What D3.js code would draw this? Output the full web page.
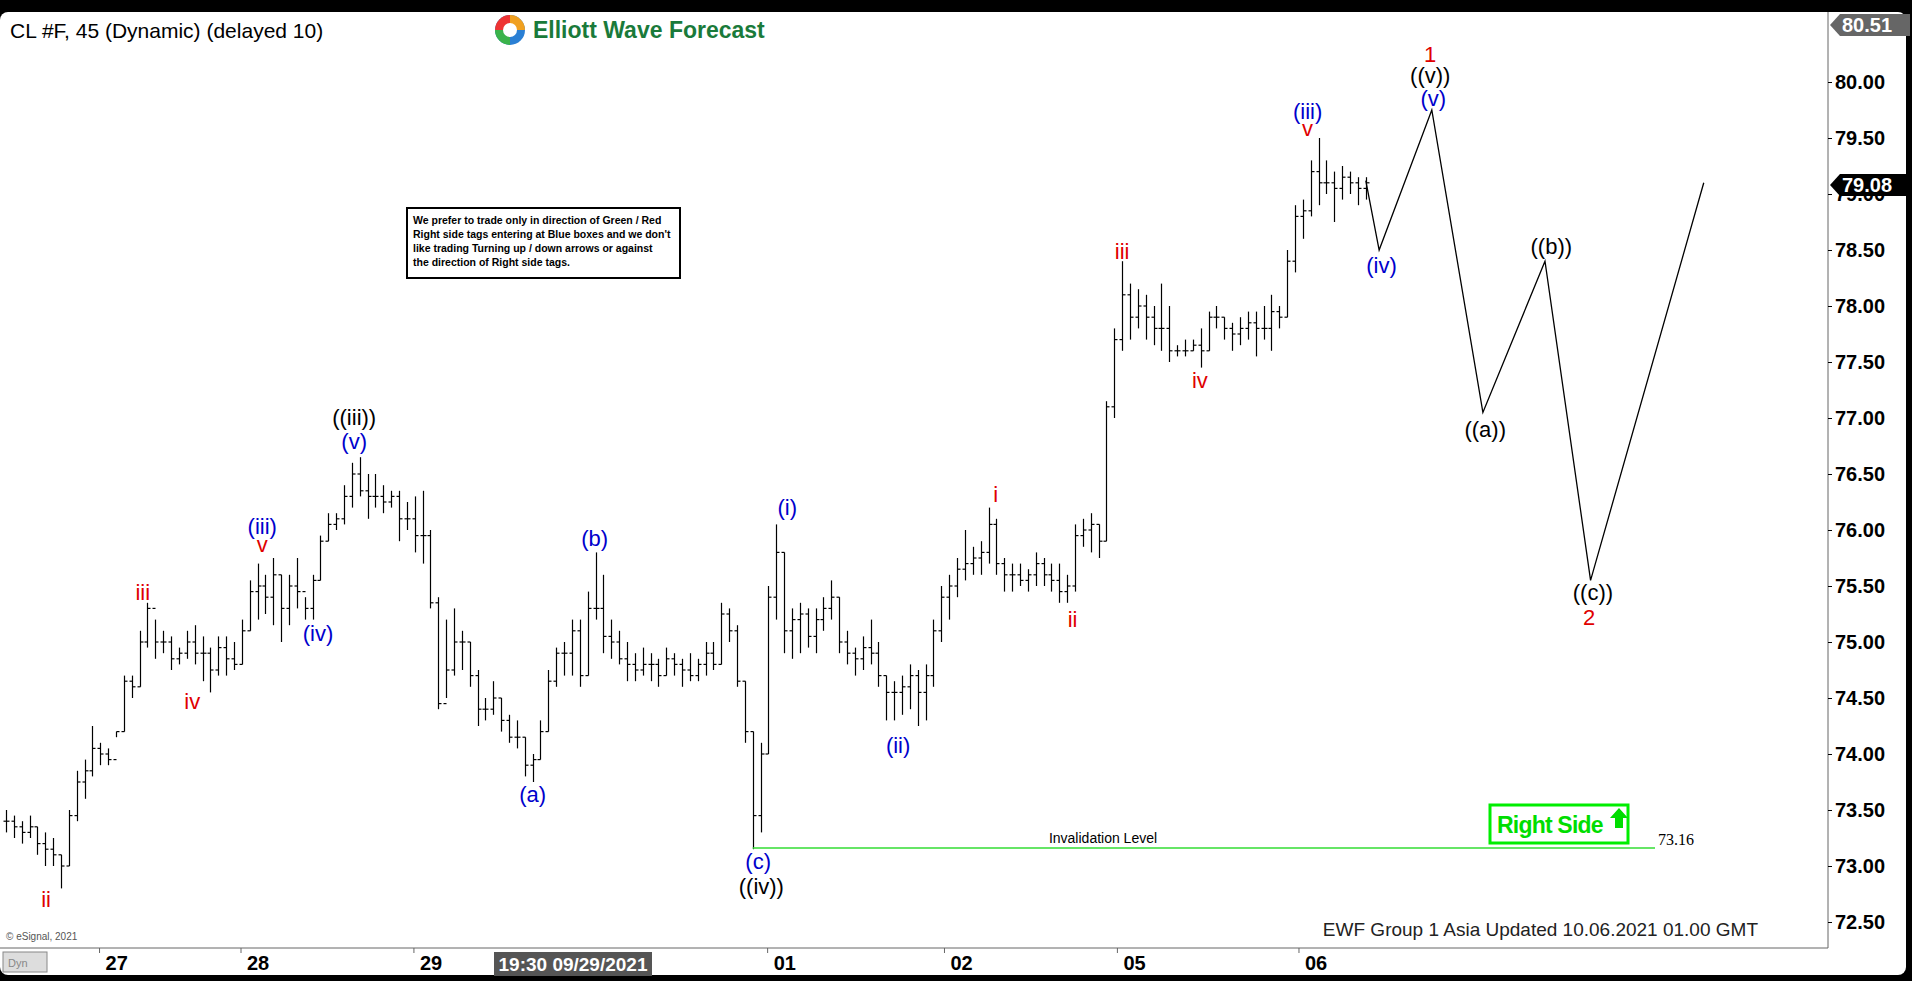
<!DOCTYPE html>
<html><head><meta charset="utf-8">
<script src="https://cdn.jsdelivr.net/npm/d3@7/dist/d3.min.js"></script>
<style>body{margin:0;background:#000;overflow:hidden}</style></head>
<body><script>
// bars: [high, low, close]
const bars=[[73.5,73.3,73.4],[73.45,73.25,73.35],[73.4,73.2,73.3],[73.45,73.25,73.35],[73.35,73.1,73.2],[73.3,73.0,73.15],[73.25,73.0,73.1],[73.1,72.8,73.0],[73.5,73.0,73.45],[73.85,73.4,73.75],[73.95,73.6,73.85],[74.25,73.8,74.05],[74.1,73.9,74.0],[74.05,73.9,73.95],
[74.2,74.15,74.2],[74.7,74.2,74.65],[74.7,74.5,74.6],[75.1,74.6,75.0],[75.35,74.95,75.3],[75.2,74.85,75.0],[75.1,74.9,75.0],[75.05,74.75,74.85],[74.95,74.8,74.9],[75.1,74.85,75.0],[75.15,74.8,74.9],[75.05,74.65,74.9],[74.95,74.55,74.75],[75.05,74.7,74.95],[75.05,74.7,74.85],[75.0,74.75,74.8],
[75.2,74.8,75.1],[75.55,75.1,75.45],[75.7,75.2,75.5],[75.6,75.25,75.4],[75.75,75.15,75.6],[75.6,75.0,75.3],[75.6,75.15,75.5],[75.75,75.3,75.45],[75.4,75.2,75.3],[75.6,75.2,75.55],[75.95,75.55,75.9],[76.15,75.9,76.05],[76.15,76.0,76.1],[76.4,76.05,76.3],[76.6,76.2,76.5],[76.65,76.3,76.35],[76.5,76.1,76.3],[76.5,76.2,76.3],[76.4,76.15,76.25],[76.35,76.2,76.3],[76.35,75.9,76.1],[76.25,76.0,76.1],[76.3,75.8,75.95],[76.35,75.7,75.95],
[76.0,75.3,75.35],[75.4,74.4,74.45],[75.2,74.5,74.75],[75.3,74.7,75.0],[75.1,74.75,75.0],[75.0,74.6,74.7],[74.75,74.25,74.4],[74.5,74.3,74.4],[74.65,74.35,74.5],[74.5,74.2,74.3],[74.35,74.1,74.15],[74.3,74.05,74.15],[74.15,73.8,73.9],[74.0,73.75,73.95],[74.3,73.95,74.2],[74.75,74.2,74.65],[74.95,74.6,74.9],[75.0,74.7,74.9],[75.2,74.7,75.1],[75.2,74.6,74.7],[75.45,74.7,75.3],[75.8,75.2,75.3],[75.6,74.9,75.05],[75.2,74.85,75.0],[75.1,74.8,74.85],[75.0,74.65,74.8],[74.9,74.65,74.75],[74.95,74.7,74.8],[74.9,74.65,74.8],[74.85,74.6,74.7],[74.95,74.7,74.85],[74.9,74.7,74.8],[74.85,74.6,74.75],[74.9,74.65,74.7],[74.85,74.65,74.8],[75.0,74.7,74.9],[75.0,74.75,74.8],[75.35,74.8,75.25],[75.3,75.0,75.1],[75.15,74.6,74.65],[74.65,74.1,74.2],[74.2,73.15,73.45],
[74.1,73.3,74.0],[75.5,74.0,75.4],[76.05,75.2,75.8],[75.8,74.9,75.1],[75.3,74.85,75.2],[75.35,74.9,75.25],[75.3,74.95,75.05],[75.3,74.9,75.2],[75.4,75.1,75.3],[75.55,75.2,75.4],[75.4,74.9,75.0],[75.1,74.8,74.9],[74.95,74.7,74.85],[75.05,74.75,74.95],[75.2,74.8,74.9],[75.0,74.6,74.7],[74.7,74.3,74.55],[74.65,74.3,74.55],[74.7,74.35,74.6],[74.8,74.4,74.7],[74.75,74.25,74.55],[74.8,74.3,74.7],[75.2,74.6,75.1],
[75.5,75.0,75.4],[75.6,75.2,75.5],[75.75,75.4,75.65],[76.0,75.55,75.7],[75.85,75.6,75.75],[75.9,75.6,75.8],[76.2,75.7,76.05],[76.1,75.6,75.7],[75.75,75.45,75.6],[75.7,75.45,75.6],[75.7,75.5,75.55],[75.65,75.45,75.6],[75.8,75.5,75.7],[75.75,75.5,75.6],[75.7,75.45,75.55],[75.7,75.35,75.45],[75.6,75.35,75.5],[76.05,75.45,75.95],[76.1,75.85,76.0],[76.15,75.8,76.05],[76.05,75.75,75.9],[77.15,75.9,77.1],[77.8,77.0,77.7],[78.4,77.6,78.1],
[78.2,77.7,77.9],[78.15,77.8,78.0],[78.1,77.7,77.9],[78.0,77.65,77.8],[78.2,77.6,77.8],[78.0,77.5,77.6],[77.65,77.55,77.6],[77.7,77.55,77.6],[77.7,77.6,77.65],[77.8,77.45,77.6],[77.95,77.6,77.9],[78.0,77.8,77.9],[77.9,77.7,77.8],[77.85,77.6,77.75],[77.9,77.65,77.8],[77.95,77.7,77.85],[77.95,77.55,77.8],[78.0,77.7,77.8],[78.1,77.6,77.95],[78.0,77.8,77.9],[78.5,77.9,78.4],[78.9,78.3,78.8],[78.95,78.6,78.85],[79.3,78.8,79.2],[79.5,78.9,79.1],[79.3,79.0,79.1],[79.2,78.75,79.05],[79.25,78.95,79.15],[79.2,79.0,79.1],[79.15,78.9,79.05],[79.15,78.95,79.1]];
const projection=[[173,79.12],[174.7,78.5],[181.4,79.75],[187.9,77.05],[195.8,78.4],[201.6,75.55],[216,79.1]];
// labels: [text, index, price, color]
const waveLabels=[["ii",5.1,72.7,"r"],["iii",17.4,75.44,"r"],["iv",23.7,74.46,"r"],["(iii)",32.6,76.03,"b"],["v",32.6,75.87,"r"],["(iv)",39.7,75.07,"b"],["((iii))",44.3,77.0,"k"],["(v)",44.3,76.79,"b"],["(a)",67,73.63,"b"],["(b)",74.9,75.92,"b"],["(c)",95.7,73.04,"b"],["((iv))",96.1,72.81,"k"],["(i)",99.4,76.2,"b"],["(ii)",113.5,74.07,"b"],["i",125.9,76.31,"r"],["ii",135.7,75.2,"r"],["iii",142,78.48,"r"],["iv",151.9,77.33,"r"],["(iii)",165.6,79.73,"b"],["v",165.6,79.58,"r"],["(iv)",175,78.36,"b"],["1",181.2,80.24,"r"],["((v))",181.2,80.05,"k"],["(v)",181.6,79.85,"b"],["((a))",188.2,76.89,"k"],["((b))",196.6,78.53,"k"],["((c))",201.9,75.44,"k"],["2",201.4,75.21,"r"]];
const priceTicks=[72.5,73,73.5,74,74.5,75,75.5,76,76.5,77,77.5,78,78.5,79,79.5,80];
const dayTicks=[[11.9,"27"],[29.9,"28"],[51.9,"29"],[96.9,"01"],[119.4,"02"],[141.4,"05"],[164.5,"06"]];
const invalidation=73.16, lastPrice=79.08, topPrice=80.51, invStart=95;

const W=1912,H=981,plotR=1828,plotB=948;
const x=d3.scaleLinear().domain([0,1]).range([6,13.86]);
const y=d3.scaleLinear().domain([80,72.5]).range([82,922]);
const col={r:"#e00000",b:"#0000cc",k:"#000"};
const svg=d3.select("body").append("svg").attr("width",W).attr("height",H).style("font-family","Arial, Liberation Sans, sans-serif");
svg.append("rect").attr("width",W).attr("height",H).attr("fill","#000");
svg.append("rect").attr("x",0).attr("y",12).attr("width",1906).attr("height",963).attr("rx",8).attr("fill","#fff");
svg.append("line").attr("x1",plotR).attr("x2",plotR).attr("y1",12).attr("y2",plotB).attr("stroke","#666");
svg.append("line").attr("x1",0).attr("x2",plotR).attr("y1",plotB).attr("y2",plotB).attr("stroke","#666");
const ax=svg.append("g").attr("transform",`translate(${plotR},0)`).call(d3.axisRight(y).tickValues(priceTicks).tickFormat(d3.format(".2f")).tickSize(4));
ax.select(".domain").remove();
ax.selectAll("text").attr("font-size",20).attr("font-weight","bold").attr("fill","#000").attr("font-family","Arial, Liberation Sans");
function tag(v,bg){const g=svg.append("g").attr("transform",`translate(${plotR+2},${y(v)})`);
 g.append("path").attr("d","M0,0 L10,-11 H80 V11 H10 Z").attr("fill",bg);
 g.append("text").attr("x",12).attr("y",7).attr("fill","#fff").attr("font-size",20).attr("font-weight","bold").text(v.toFixed(2));}
tag(topPrice,"#666");tag(lastPrice,"#000");
const dg=svg.append("g");
dayTicks.forEach(([i,t])=>{dg.append("line").attr("x1",x(i)).attr("x2",x(i)).attr("y1",plotB).attr("y2",plotB+5).attr("stroke","#666");
 dg.append("text").attr("x",x(i)+6).attr("y",plotB+22).attr("font-size",20).attr("font-weight","bold").text(t);});
dg.append("rect").attr("x",494).attr("y",plotB+4).attr("width",158).attr("height",24).attr("fill","#555");
dg.append("text").attr("x",573).attr("y",plotB+23).attr("text-anchor","middle").attr("fill","#fff").attr("font-size",19).attr("font-weight","bold").text("19:30 09/29/2021");
dg.append("rect").attr("x",3).attr("y",plotB+4).attr("width",44).attr("height",20).attr("fill","#ddd").attr("stroke","#888");
dg.append("text").attr("x",8).attr("y",plotB+19).attr("font-size",11).attr("fill","#888").text("Dyn");
svg.append("text").attr("x",6).attr("y",plotB-8).attr("font-size",10).attr("fill","#555").text("© eSignal, 2021");
const bg=svg.append("g").attr("stroke","#000").attr("stroke-width",1.2);
bars.forEach((b,i)=>{const o=i?bars[i-1][2]:b[2];const cx=Math.round(x(i))+0.5;
 bg.append("line").attr("x1",cx).attr("x2",cx).attr("y1",y(b[0])).attr("y2",y(b[1]));
 bg.append("line").attr("x1",cx-3).attr("x2",cx).attr("y1",y(o)).attr("y2",y(o));
 bg.append("line").attr("x1",cx).attr("x2",cx+3).attr("y1",y(b[2])).attr("y2",y(b[2]));});
svg.append("path").attr("d",d3.line().x(d=>x(d[0])).y(d=>y(d[1]))(projection)).attr("fill","none").attr("stroke","#000").attr("stroke-width",1.3);
svg.append("line").attr("x1",x(invStart)).attr("x2",1655).attr("y1",y(invalidation)).attr("y2",y(invalidation)).attr("stroke","#33dd33").attr("stroke-width",1.5);
svg.append("text").attr("x",1103).attr("y",y(invalidation)-5).attr("text-anchor","middle").attr("font-size",14).text("Invalidation Level");
svg.append("text").attr("x",1658).attr("y",y(invalidation)-3).attr("font-size",16).attr("font-family","Liberation Serif, serif").text(invalidation.toFixed(2));
svg.append("rect").attr("x",1490).attr("y",805).attr("width",138).attr("height",38).attr("fill","#fff").attr("stroke","#00ee00").attr("stroke-width",3);
svg.append("text").attr("x",1497).attr("y",833).attr("fill","#00dd00").attr("font-size",23).attr("font-weight","bold").attr("letter-spacing",-0.8).text("Right Side");
svg.append("path").attr("d","M1610,818 l9,-10 9,10 h-5 v10 h-8 v-10 z").attr("fill","#00dd00");
svg.append("g").selectAll("text").data(waveLabels).join("text").attr("x",d=>x(d[1])).attr("y",d=>y(d[2])+7).attr("text-anchor","middle")
 .attr("font-size",22).attr("fill",d=>col[d[3]]).text(d=>d[0]);
svg.append("text").attr("x",10).attr("y",38).attr("font-size",21).text("CL #F, 45 (Dynamic) (delayed 10)");
const lg=svg.append("g").attr("transform","translate(510,30)");
lg.append("circle").attr("r",15).attr("fill","#2a7fd4");
lg.append("path").attr("d","M-15,0 A15,15 0 0,1 0,-15 L0,0 Z").attr("fill","#e33");
lg.append("path").attr("d","M0,-15 A15,15 0 0,1 15,0 L0,0 Z").attr("fill","#f0a020");
lg.append("path").attr("d","M0,15 A15,15 0 0,1 -15,0 L0,0 Z").attr("fill","#3bb34a");
lg.append("circle").attr("r",7).attr("fill","#fff");
lg.append("text").attr("x",23).attr("y",8).attr("font-size",23).attr("font-weight","bold").attr("fill","#1a7a3a").text("Elliott Wave Forecast");
svg.append("rect").attr("x",407).attr("y",208).attr("width",273).attr("height",70).attr("fill","#fff").attr("stroke","#000").attr("stroke-width",2);
["We prefer to trade only in direction of Green / Red","Right side tags entering at Blue boxes and we don't","like trading Turning up / down arrows or against","the direction of Right side tags."].forEach((t,i)=>
 svg.append("text").attr("x",413).attr("y",224+i*14).attr("font-size",10.5).attr("font-weight","bold").text(t));
svg.append("text").attr("x",1758).attr("y",936).attr("text-anchor","end").attr("font-size",19).attr("fill","#222").text("EWF Group 1 Asia Updated 10.06.2021 01.00 GMT");
</script></body></html>
